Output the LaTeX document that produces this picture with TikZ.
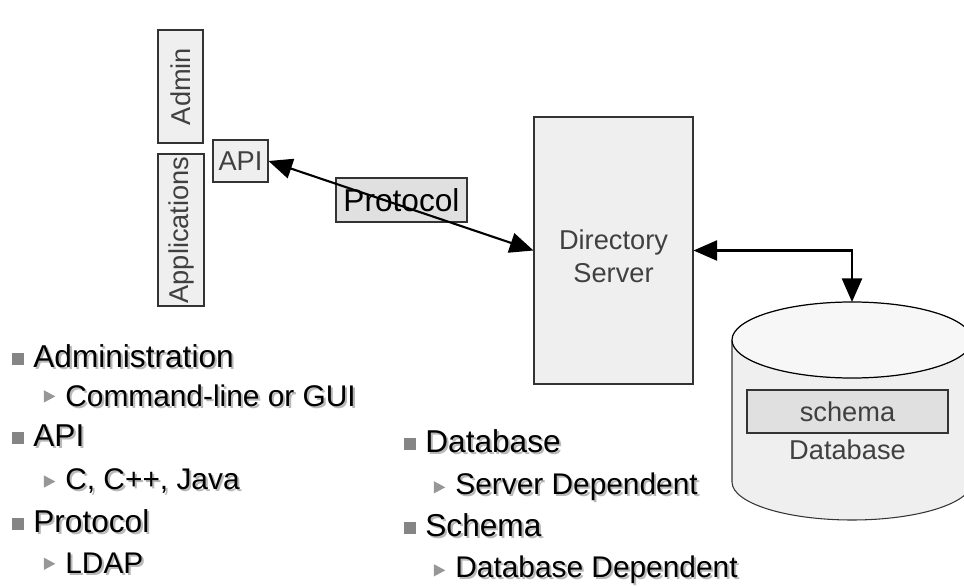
\documentclass[tikz,border=0pt]{standalone}
\usepackage{fontspec}
\setmainfont{Liberation Sans}
\usetikzlibrary{positioning,arrows.meta,calc,shapes.geometric}

\definecolor{boxgray}{HTML}{EFEFEF}
\definecolor{taggray}{HTML}{E0E0E0}
\definecolor{lidgray}{HTML}{F7F7F7}
\definecolor{labelgray}{HTML}{404040}
\definecolor{bulletgray}{HTML}{858585}

% slide text with a soft drop shadow
\newcommand{\shadowed}[1]{%
    \makebox[0pt][l]{\kern1.2pt\raisebox{-1.2pt}{\textcolor{black!28}{#1}}}#1}

\begin{document}
\begin{tikzpicture}[
    x=0.02cm,
    y=0.02cm,
    link/.style={
        {Triangle[length=13.5pt,width=11.5pt]}-{Triangle[length=13.5pt,width=11.5pt]},
        line width=1.2pt
    },
    block/.style={
        draw=black!80,
        fill=boxgray,
        line width=0.6pt,
        inner sep=0pt,
        text=labelgray,
        font=\fontsize{15.5}{18}\selectfont
    },
    tag/.style={
        block,
        fill=taggray
    },
    item/.style={
        anchor=base west,
        inner sep=0pt,
        font=\fontsize{18}{20}\selectfont
    },
    subitem/.style={
        anchor=base west,
        inner sep=0pt,
        font=\fontsize{17}{20}\selectfont
    },
    sqbullet/.style={
        fill=bulletgray,
        minimum size=0.24cm,
        inner sep=0pt
    },
    tribullet/.style={
        fill=bulletgray!85,
        isosceles triangle,
        isosceles triangle stretches,
        minimum width=7pt,
        minimum height=6.5pt,
        inner sep=0pt
    }
]

\useasboundingbox (0,0) rectangle (964,586);

%%%%%%%%%%%%%%%%%%%%%%%%%%%%%%%%%%%%%%%%%%%%%%%%%%%%
%% Client side
%%%%%%%%%%%%%%%%%%%%%%%%%%%%%%%%%%%%%%%%%%%%%%%%%%%%

\node[block,minimum width=0.9cm,minimum height=2.26cm] (admin) at (180.5,499.5)
{\rotatebox{90}{Admin}};

\node[block,minimum width=0.92cm,minimum height=3.04cm] (apps) at (181,356)
{\rotatebox{90}{Applications}};

\node[block,minimum width=1.1cm,minimum height=0.84cm] (api) at (240.5,425)
{API};

\node[tag,minimum width=2.62cm,minimum height=0.88cm,text=black,
    font=\fontsize{18}{20}\selectfont] (proto) at (401.5,386)
{Protocol};

%%%%%%%%%%%%%%%%%%%%%%%%%%%%%%%%%%%%%%%%%%%%%%%%%%%%
%% Server
%%%%%%%%%%%%%%%%%%%%%%%%%%%%%%%%%%%%%%%%%%%%%%%%%%%%

\node[block,minimum width=3.18cm,minimum height=5.34cm] (server) at (613.5,335.5) {};
\node[text=labelgray,font=\fontsize{15.5}{18}\selectfont,align=center] (servertext)
    at ($(server.center)+(0,-6)$)
{Directory\\[1pt]Server};

%%%%%%%%%%%%%%%%%%%%%%%%%%%%%%%%%%%%%%%%%%%%%%%%%%%%
%% Database cylinder
%%%%%%%%%%%%%%%%%%%%%%%%%%%%%%%%%%%%%%%%%%%%%%%%%%%%

\draw[fill=boxgray,draw=black!80,line width=0.6pt]
    (732,246) -- (732,104)
    arc[start angle=180,end angle=360,x radius=120,y radius=38]
    -- (972,246);
\draw[fill=lidgray,draw=black,line width=0.7pt]
    (852,246) ellipse[x radius=120,y radius=38];
\coordinate (dbtop) at (852,284);

\node[tag,minimum width=4.02cm,minimum height=0.86cm] (schema) at (847.5,174.5)
{schema};
\node[text=labelgray,font=\fontsize{15.5}{18}\selectfont,below=0pt of schema] (db)
{Database};

%%%%%%%%%%%%%%%%%%%%%%%%%%%%%%%%%%%%%%%%%%%%%%%%%%%%
%% Links
%%%%%%%%%%%%%%%%%%%%%%%%%%%%%%%%%%%%%%%%%%%%%%%%%%%%

\draw[link] (api.east) -- (server.west);
\draw[link] (server.east) -| (dbtop);

%%%%%%%%%%%%%%%%%%%%%%%%%%%%%%%%%%%%%%%%%%%%%%%%%%%%
%% Notes, left column
%%%%%%%%%%%%%%%%%%%%%%%%%%%%%%%%%%%%%%%%%%%%%%%%%%%%

\node[item] (nadmin) at (33,219) {\shadowed{Administration}};
\node[sqbullet,left=5pt of nadmin.west,yshift=-1pt] (badmin) {};
\node[subitem] (ngui) at (65,180) {\shadowed{Command-line or GUI}};
\node[tribullet,left=5pt of ngui.west] (bgui) {};

\node[item] (napi) at (33,140) {\shadowed{API}};
\node[sqbullet,left=5pt of napi.west,yshift=-1pt] (bapi) {};
\node[subitem] (nlang) at (65,97) {\shadowed{C, C++, Java}};
\node[tribullet,left=5pt of nlang.west] (blang) {};

\node[item] (nproto) at (33,54) {\shadowed{Protocol}};
\node[sqbullet,left=5pt of nproto.west,yshift=-1pt] (bproto) {};
\node[subitem] (nldap) at (65,13) {\shadowed{LDAP}};
\node[tribullet,left=5pt of nldap.west] (bldap) {};

%%%%%%%%%%%%%%%%%%%%%%%%%%%%%%%%%%%%%%%%%%%%%%%%%%%%
%% Notes, right column
%%%%%%%%%%%%%%%%%%%%%%%%%%%%%%%%%%%%%%%%%%%%%%%%%%%%

\node[item] (ndb) at (425,134) {\shadowed{Database}};
\node[sqbullet,left=5pt of ndb.west,yshift=-1pt] (bdb) {};
\node[subitem] (nsrv) at (455,92) {\shadowed{Server Dependent}};
\node[tribullet,left=5pt of nsrv.west] (bsrv) {};

\node[item] (nschema) at (425,50) {\shadowed{Schema}};
\node[sqbullet,left=5pt of nschema.west,yshift=-1pt] (bschema) {};
\node[subitem] (ndbdep) at (455,9) {\shadowed{Database Dependent}};
\node[tribullet,left=5pt of ndbdep.west] (bdbdep) {};

\end{tikzpicture}
\end{document}
